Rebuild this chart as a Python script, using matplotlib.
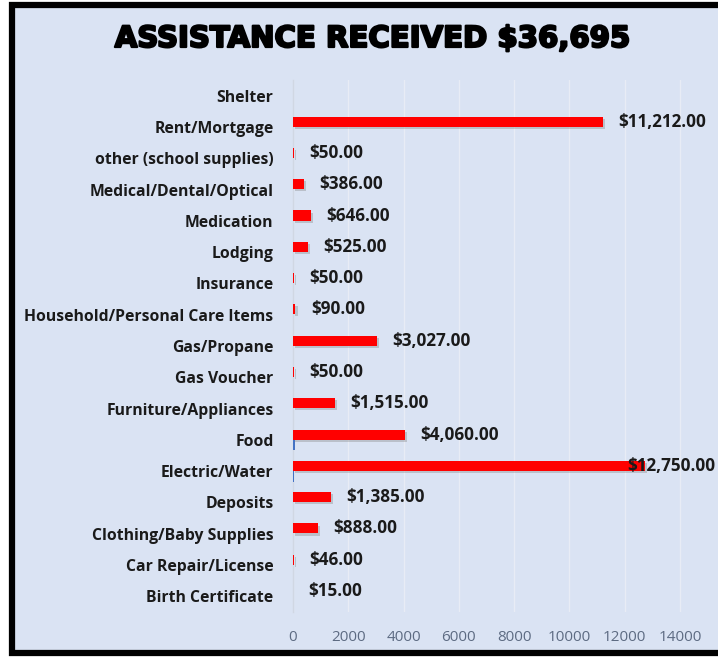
import matplotlib
matplotlib.use("Agg")
import matplotlib.pyplot as plt
import matplotlib.patheffects as pe
from matplotlib.patches import Rectangle

categories = ["Shelter", "Rent/Mortgage", "other (school supplies)", "Medical/Dental/Optical",
              "Medication", "Lodging", "Insurance", "Household/Personal Care Items",
              "Gas/Propane", "Gas Voucher", "Furniture/Appliances", "Food",
              "Electric/Water", "Deposits", "Clothing/Baby Supplies", "Car Repair/License",
              "Birth Certificate"]
amounts = [None, 11212, 50, 386, 646, 525, 50, 90, 3027, 50, 1515, 4060, 12750, 1385, 888, 46, 15]
second_series = [0, 0, 0, 0, 0, 0, 0, 0, 0, 0, 0, 60, 40, 0, 0, 0, 0]
title = "ASSISTANCE RECEIVED $36,695"
xticks = [0, 2000, 4000, 6000, 8000, 10000, 12000, 14000]

BG = "#dae3f3"
fig = plt.figure(figsize=(7.18, 6.57), dpi=100)
fig.patch.set_facecolor("white")

# chart area background with black frame
W, H = 718, 657
frame = Rectangle((12 / W, 4.5 / H), 1.0, 1 - 9 / H, transform=fig.transFigure,
                  facecolor=BG, edgecolor="black", linewidth=4.5, zorder=-5)
fig.patches.append(frame)

ax = fig.add_axes([293 / W, 1 - 612 / H, 1 - 293 / W, (612 - 80) / H])
ax.set_zorder(2)
ax.set_facecolor("none")

n = len(categories)
ys = list(range(n))
vals = [v if v is not None else 0 for v in amounts]
h = 0.32
shadow = [pe.SimplePatchShadow(offset=(1.5, -1.5), shadow_rgbFace="#7f7f7f", alpha=0.35), pe.Normal()]
bars = ax.barh([y - 0.17 for y in ys], vals, height=h, color="#ff0000", zorder=3)
for b in bars:
    b.set_path_effects(shadow)
ax.barh([y + 0.17 for y in ys], second_series, height=h, color="#4472c4", zorder=3)

LBL = ["Open Sans", "DejaVu Sans"]
ax.set_ylim(n - 0.5, -0.5)
ax.set_xlim(0, 15380)
ax.set_xticks(xticks)
ax.set_xticklabels([str(t) for t in xticks], fontfamily=LBL, fontsize=11, color="#5d6b82")
ax.set_yticks(ys)
ax.set_yticklabels(categories, fontfamily=LBL, fontweight="bold", fontsize=11.3, color="#1a1a1a")
ax.tick_params(axis="y", length=0, pad=14)
ax.tick_params(axis="x", length=0, pad=13)
ax.grid(axis="x", color="#e8ecf5", linewidth=1, zorder=0)
ax.set_axisbelow(True)
for s in ["top", "right", "bottom"]:
    ax.spines[s].set_visible(False)
ax.spines["left"].set_color("#d0d7e3")
ax.spines["left"].set_linewidth(1)

for y, v in zip(ys, amounts):
    if v is None:
        continue
    off = 11 if v < 12000 else -13
    ax.annotate(f"${v:,.2f}", xy=(v, y - 0.17), xytext=(off, 0), textcoords="offset points",
                ha="left", va="center", fontfamily=LBL, fontweight="bold", fontsize=12.3,
                color="#1a1a1a", zorder=5, annotation_clip=False)

fig.text(372 / W, 1 - 39 / H, title, ha="center", va="center", fontfamily="DejaVu Sans",
         fontweight="bold", fontsize=21, color="black", zorder=3,
         path_effects=[pe.withStroke(linewidth=1.6, foreground="black")])

fig.savefig("out.png", dpi=100, facecolor=fig.get_facecolor())
